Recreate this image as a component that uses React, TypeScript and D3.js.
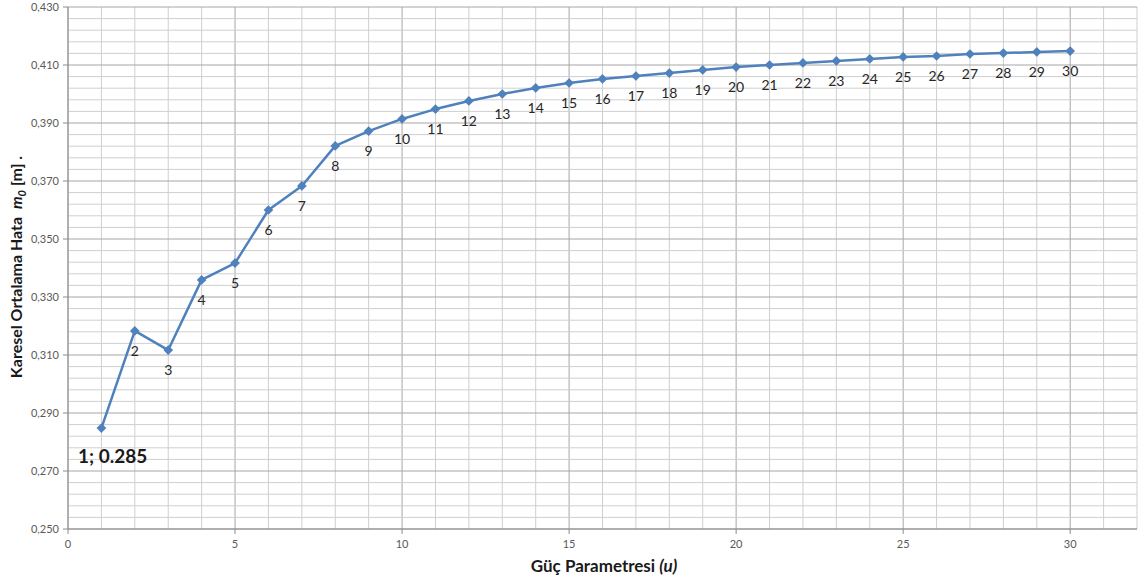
import * as d3 from 'd3';

// power parameter u and the RMS error m0
const uValues = [
  1, 2, 3, 4, 5, 6, 7, 8, 9, 10, 11, 12, 13, 14, 15,
  16, 17, 18, 19, 20, 21, 22, 23, 24, 25, 26, 27, 28, 29, 30,
];
const m0Values = [
  0.2848, 0.3183, 0.3117, 0.3359, 0.3417, 0.3600, 0.3683, 0.3821, 0.3872, 0.3914,
  0.3948, 0.3976, 0.4000, 0.4021, 0.4038, 0.4052, 0.4062, 0.4072, 0.4083, 0.4093,
  0.4100, 0.4107, 0.4114, 0.4121, 0.4128, 0.4131, 0.4138, 0.4141, 0.4145, 0.4148,
];
const xTicks = [0, 5, 10, 15, 20, 25, 30];
const yTicks = [0.25, 0.27, 0.29, 0.31, 0.33, 0.35, 0.37, 0.39, 0.41, 0.43];
const calloutText = '1; 0.285';

const W = 1138;
const H = 583;
const margin = { top: 7, right: 1, bottom: 54, left: 68 };
const FONT = 'Lato, "Open Sans", sans-serif';

export default function App() {
  const x = d3.scaleLinear().domain([0, 32]).range([margin.left, W - margin.right]);
  const y = d3.scaleLinear().domain([0.25, 0.43]).range([H - margin.bottom, margin.top]);

  const minorX = d3.range(0, 33, 1);
  const minorY = d3.range(0.25, 0.4301, 0.004);

  const pts = uValues.map((u, i) => [u, m0Values[i]] as [number, number]);
  const line = d3.line<[number, number]>().x(d => x(d[0])).y(d => y(d[1]));
  const diamond = d3.symbol().type(d3.symbolDiamond2).size(60)();
  const fmt = (v: number) => v.toFixed(3).replace('.', ',');

  const x0 = x(0);
  const yBase = y(0.25);

  return (
    <svg width={W} height={H} style={{ position: 'absolute', left: 0, top: 0, background: '#fff' }}
      fontFamily={FONT}>
      {/* grid, every 5th line darker */}
      {minorX.map(v => (
        <line key={'mx' + v} x1={x(v)} x2={x(v)} y1={y(0.43)} y2={yBase}
          stroke={v % 5 === 0 ? '#a6a6a6' : '#cfcfcf'} strokeWidth={1} />
      ))}
      {minorY.map((v, i) => (
        <line key={'my' + i} x1={x0} x2={x(32)} y1={y(v)} y2={y(v)}
          stroke={i % 5 === 0 ? '#a6a6a6' : '#cfcfcf'} strokeWidth={1} />
      ))}

      {/* axes */}
      <line x1={x0} x2={x0} y1={y(0.43)} y2={yBase} stroke="#8c8c8c" />
      <line x1={x0} x2={x(32)} y1={yBase} y2={yBase} stroke="#8c8c8c" />
      {yTicks.map(v => (
        <g key={'yt' + v}>
          <line x1={x0 - 5} x2={x0} y1={y(v)} y2={y(v)} stroke="#8c8c8c" />
          <text x={x0 - 9} y={y(v)} dy="0.35em" textAnchor="end" fontSize={11} fill="#595959">{fmt(v)}</text>
        </g>
      ))}
      {xTicks.map(v => (
        <g key={'xt' + v}>
          <line x1={x(v)} x2={x(v)} y1={yBase} y2={yBase + 5} stroke="#8c8c8c" />
          <text x={x(v)} y={yBase + 19} textAnchor="middle" fontSize={11} fill="#595959">{v}</text>
        </g>
      ))}

      {/* series */}
      <path d={line(pts) || ''} fill="none" stroke="#4f81bd" strokeWidth={2.5} strokeLinejoin="round" />
      {pts.map(d => (
        <path key={'p' + d[0]} d={diamond || ''} transform={`translate(${x(d[0])},${y(d[1])})`} fill="#4f81bd" />
      ))}
      {pts.slice(1).map(d => (
        <text key={'l' + d[0]} x={x(d[0])} y={y(d[1]) + 25} textAnchor="middle" fontSize={14} fill="#262626">{d[0]}</text>
      ))}
      <text x={x(0.3)} y={y(m0Values[0]) + 35} fontSize={19} fontWeight="bold" fill="#1a1a1a">{calloutText}</text>

      {/* axis titles */}
      <text x={604} y={H - 11} textAnchor="middle" fontSize={17} fontWeight="bold" fill="#1a1a1a">
        Güç Parametresi <tspan fontStyle="italic">(u)</tspan>
      </text>
      <text transform={`translate(22,${(margin.top + yBase) / 2 - 1}) rotate(-90)`} textAnchor="middle"
        fontSize={16} fontWeight="bold" fill="#1a1a1a">
        Karesel Ortalama Hata{'\u00a0\u00a0'}<tspan fontStyle="italic">m</tspan>
        <tspan fontStyle="italic" fontSize={11} dy={4}>0</tspan>
        <tspan dy={-4}> [m] .</tspan>
      </text>
    </svg>
  );
}
